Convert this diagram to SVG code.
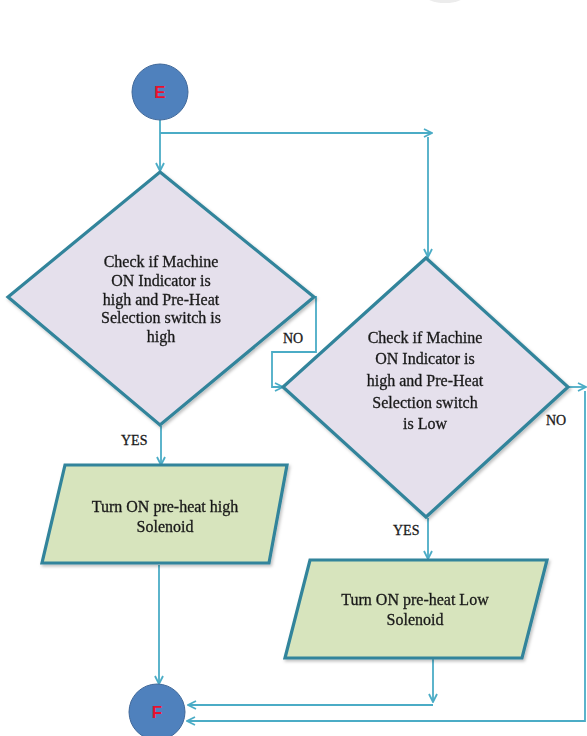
<svg xmlns="http://www.w3.org/2000/svg" width="587" height="736" viewBox="0 0 587 736">
  <defs>
    <style>
      .conn { fill: none; stroke: #4bacc6; stroke-width: 1.8; }
      .decision { fill: #e5e0ec; stroke: #31849b; stroke-width: 3.2; stroke-linejoin: miter; }
      .process { fill: #d7e4bd; stroke: #31849b; stroke-width: 3.2; stroke-linejoin: miter; }
      .term { fill: #4f81bd; stroke: #41699a; stroke-width: 1; }
      .lbl { font-family: "Liberation Serif", "Times New Roman", serif; font-size: 16px; fill: #1a1a1a; text-anchor: middle; stroke: #1a1a1a; stroke-width: 0.3; }
      .tag { font-family: "Liberation Serif", "Times New Roman", serif; font-size: 14px; fill: #1a1a1a; stroke: #1a1a1a; stroke-width: 0.3; }
      .term-txt { font-family: "Liberation Sans", Arial, sans-serif; font-size: 17px; font-weight: bold; fill: #e8112d; text-anchor: middle; }
    </style>
    <marker id="arrow" viewBox="0 0 10 10" refX="9" refY="5" markerWidth="10" markerHeight="10" markerUnits="userSpaceOnUse" orient="auto">
      <path d="M1,1 L9,5 L1,9" fill="none" stroke="#4bacc6" stroke-width="1.8"/>
    </marker>
    <filter id="shadow" x="-10%" y="-10%" width="125%" height="125%">
      <feDropShadow dx="1.5" dy="2" stdDeviation="1.5" flood-color="#000" flood-opacity="0.25"/>
    </filter>
    <radialGradient id="grayArc" cx="0.5" cy="0" r="0.7">
      <stop offset="0" stop-color="#c8c8c8"/>
      <stop offset="1" stop-color="#ececec"/>
    </radialGradient>
  </defs>

  <rect width="587" height="736" fill="#ffffff"/>

  <!-- partial shape cut by the top edge -->
  <ellipse cx="445" cy="-8" rx="23" ry="11" fill="url(#grayArc)"/>

  <!-- connectors -->
  <g id="connectors">
    <path class="conn" d="M160,120 V171" marker-end="url(#arrow)"/>
    <path class="conn" d="M160,133 H432" marker-end="url(#arrow)"/>
    <path class="conn" d="M428,137 V257" marker-end="url(#arrow)"/>
    <path class="conn" d="M313,297 H316 V352 H272 V387 H283" marker-end="url(#arrow)"/>
    <path class="conn" d="M568,387 H586" marker-end="url(#arrow)"/>
    <path class="conn" d="M585,391 V721 H187" marker-end="url(#arrow)"/>
    <path class="conn" d="M161,426 V465" marker-end="url(#arrow)"/>
    <path class="conn" d="M159,565 V684" marker-end="url(#arrow)"/>
    <path class="conn" d="M428,518 V559" marker-end="url(#arrow)"/>
    <path class="conn" d="M433,658 V702" marker-end="url(#arrow)"/>
    <path class="conn" d="M433,705 H188" marker-end="url(#arrow)"/>
    <text class="tag" x="283" y="343">NO</text>
    <text class="tag" x="546" y="425">NO</text>
    <text class="tag" x="121" y="445">YES</text>
    <text class="tag" x="393" y="535">YES</text>
  </g>

  <!-- start connector E -->
  <g id="node-e">
    <circle class="term" cx="160" cy="92" r="28"/>
    <text class="term-txt" x="160" y="98">E</text>
  </g>

  <!-- first decision -->
  <g id="decision-high" filter="url(#shadow)">
    <polygon class="decision" points="160,172 314,297 160,425 8,297"/>
    <text class="lbl" x="161" y="267">Check if Machine</text>
    <text class="lbl" x="161" y="286">ON Indicator is</text>
    <text class="lbl" x="161" y="305">high and Pre-Heat</text>
    <text class="lbl" x="161" y="323">Selection switch is</text>
    <text class="lbl" x="161" y="342">high</text>
  </g>

  <!-- second decision -->
  <g id="decision-low" filter="url(#shadow)">
    <polygon class="decision" points="426,258 568,387 426,517 283,387"/>
    <text class="lbl" x="425" y="343">Check if Machine</text>
    <text class="lbl" x="425" y="364">ON Indicator is</text>
    <text class="lbl" x="425" y="386">high and Pre-Heat</text>
    <text class="lbl" x="425" y="408">Selection switch</text>
    <text class="lbl" x="425" y="429">is Low</text>
  </g>

  <!-- high solenoid -->
  <g id="process-high" filter="url(#shadow)">
    <polygon class="process" points="65,465 287,465 269,563 42,563"/>
    <text class="lbl" x="165" y="512">Turn ON pre-heat high</text>
    <text class="lbl" x="165" y="532">Solenoid</text>
  </g>

  <!-- low solenoid -->
  <g id="process-low" filter="url(#shadow)">
    <polygon class="process" points="310,560 547,560 522,658 285,658"/>
    <text class="lbl" x="415" y="605">Turn ON pre-heat Low</text>
    <text class="lbl" x="415" y="625">Solenoid</text>
  </g>

  <!-- end connector F -->
  <g id="node-f">
    <circle class="term" cx="157" cy="712" r="28"/>
    <text class="term-txt" x="157" y="718">F</text>
  </g>
</svg>
